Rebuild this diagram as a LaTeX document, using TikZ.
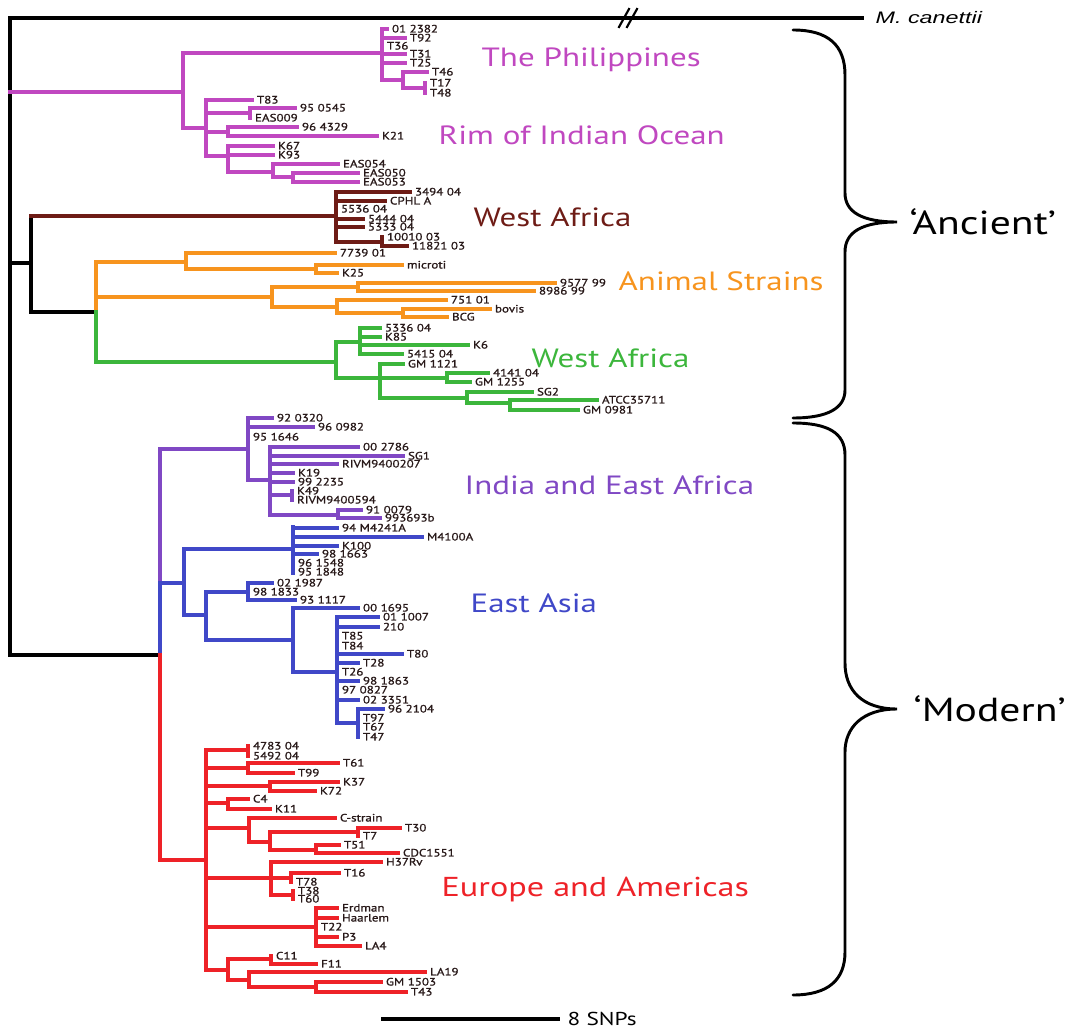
\documentclass[tikz,border=0pt]{standalone}
\usepackage{fontspec}
\setmainfont{PT Sans}[FakeStretch=1.25]
\newfontfamily\tipfamily{PT Sans}[FakeStretch=1.22,FakeBold=1.2]
\newfontfamily\canfont{Liberation Sans}[FakeStretch=1.4]
\definecolor{phil}{RGB}{192,72,192}
\definecolor{wafr}{RGB}{110,28,22}
\definecolor{animal}{RGB}{247,148,30}
\definecolor{wgreen}{RGB}{60,182,60}
\definecolor{india}{RGB}{128,72,196}
\definecolor{easia}{RGB}{64,72,200}
\definecolor{euro}{RGB}{238,34,40}
\definecolor{leafink}{RGB}{40,25,25}
\newcommand{\leaffont}{\tipfamily\fontsize{8}{8}\selectfont}
\newcommand{\grpfont}{\fontsize{19.8}{19.8}\selectfont}
\newcommand{\bigfont}{\fontsize{25}{25}\selectfont}
% branch with a tip label: x from, x to, y, label
\newcommand{\lf}[4]{\draw (#1,#3) -- (#2,#3) node[leaf]{#4};}
% tip sitting on a vertical: x, y, label
\newcommand{\zl}[3]{\node[leaf] at (#1,#2) {#3};}
% vertical bar of a clade: x, y top, y bottom
\newcommand{\vb}[3]{\draw (#1,#2) -- (#1,#3);}
\begin{document}
\begin{tikzpicture}[x=0.75pt,y=-0.75pt,line width=2.5pt,line cap=rect,
  leaf/.style={anchor=west,inner sep=0pt,xshift=2.5pt,font=\leaffont,text=leafink,text height=5.2pt,text depth=0pt},
  grp/.style={anchor=west,inner sep=0pt,font=\grpfont},
  brace/.style={line width=2.2pt,line cap=round}]
\useasboundingbox (0,0) rectangle (1067,1030);
% outgroup and root
\draw (10,18) -- (862,18) node[anchor=west,inner sep=0pt,xshift=9pt,font=\canfont\itshape\fontsize{12.5}{12.5}\selectfont] (can) {M. canettii};
\draw[line width=1.6pt] (619,27) -- (629,9) (627,27) -- (637,9);
\draw (10,18) -- (10,655);
\draw (10,263) -- (31,263);
\draw (31,216) -- (31,312);
\draw (31,312) -- (96,312);
\draw (10,655) -- (160,655);
% The Philippines / Rim of Indian Ocean
\begin{scope}[draw=phil]
\draw (10,92) -- (183,92);
\vb{183}{53}{128}
\draw (183,53) -- (382,53);
\vb{382}{29}{80}
\lf{382}{387}{29}{01 2382}
\lf{382}{405}{38}{T92}
\zl{382}{46}{T36}
\lf{382}{405}{54}{T31}
\lf{382}{405}{63}{T25}
\draw (382,80) -- (403,80);
\vb{403}{72}{88}
\lf{403}{427}{72}{T46}
\draw (403,88) -- (425,88);
\vb{425}{83}{93}
\zl{425}{83}{T17}
\zl{425}{93}{T48}
\draw (183,128) -- (206,128);
\vb{206}{100}{156}
\lf{206}{252}{100}{T83}
\draw (206,113) -- (250,113);
\vb{250}{108}{118}
\lf{250}{295}{108}{95 0545}
\zl{250}{118}{EAS009}
\draw (206,132) -- (228,132);
\vb{228}{127}{136}
\lf{228}{297}{127}{96 4329}
\lf{228}{377}{136}{K21}
\draw (206,156) -- (228,156);
\vb{228}{146}{172}
\lf{228}{273}{146}{K67}
\lf{228}{273}{155}{K93}
\draw (228,172) -- (273,172);
\vb{273}{164}{177}
\lf{273}{338}{164}{EAS054}
\draw (273,177) -- (293,177);
\vb{293}{173}{182}
\lf{293}{358}{173}{EAS050}
\lf{293}{358}{182}{EAS053}
\end{scope}
\node[grp,text=phil] (philip) at (480,60) {The Philippines};
\node[grp,text=phil] (rim) at (437,135) {Rim of Indian Ocean};
% West Africa (brown)
\begin{scope}[draw=wafr]
\draw (31,216) -- (336,216);
\vb{336}{192}{242}
\lf{336}{410}{192}{3494 04}
\lf{336}{385}{201}{CPHL A}
\zl{336}{209}{5536 04}
\lf{336}{363}{219}{5444 04}
\lf{336}{363}{227}{5333 04}
\draw (336,242) -- (382,242);
\vb{382}{237}{246}
\zl{382}{237}{10010 03}
\lf{382}{407}{246}{11821 03}
\end{scope}
\node[grp,text=wafr] (wafrlab) at (472,217) {West Africa};
% Animal strains
\begin{scope}[draw=animal]
\vb{96}{262}{312}
\draw (96,262) -- (186,262);
\vb{186}{253}{269}
\lf{186}{335}{253}{7739 01}
\draw (186,269) -- (316,269);
\vb{316}{265}{273}
\lf{316}{402}{265}{microti}
\lf{316}{337}{273}{K25}
\draw (96,297) -- (272,297);
\vb{272}{287}{307}
\draw (272,287) -- (358,287);
\vb{358}{283}{291}
\lf{358}{555}{283}{9577 99}
\lf{358}{534}{291}{8986 99}
\draw (272,307) -- (337,307);
\vb{337}{300}{313}
\lf{337}{446}{300}{751 01}
\draw (337,313) -- (403,313);
\vb{403}{309}{317}
\lf{403}{490}{309}{bovis}
\lf{403}{447}{317}{BCG}
\end{scope}
\node[grp,text=animal] (anim) at (617,281) {Animal Strains};
% West Africa (green)
\begin{scope}[draw=wgreen]
\vb{96}{312}{362}
\draw (96,362) -- (336,362);
\vb{336}{342}{378}
\draw (336,342) -- (360,342);
\vb{360}{328}{354}
\lf{360}{380}{328}{5336 04}
\lf{360}{380}{337}{K85}
\lf{360}{468}{345}{K6}
\lf{360}{402}{354}{5415 04}
\draw (336,378) -- (380,378);
\vb{380}{364}{398}
\lf{380}{403}{364}{GM 1121}
\draw (380,378) -- (447,378);
\vb{447}{373}{382}
\lf{447}{488}{373}{4141 04}
\lf{447}{470}{382}{GM 1255}
\draw (380,398) -- (467,398);
\vb{467}{392}{403}
\lf{467}{532}{392}{SG2}
\draw (467,403) -- (510,403);
\vb{510}{400}{410}
\lf{510}{597}{400}{ATCC35711}
\lf{510}{578}{410}{GM 0981}
\end{scope}
\node[grp,text=wgreen] (wgrlab) at (530,358) {West Africa};
% India and East Africa
\begin{scope}[draw=india]
\vb{160}{449}{583}
\draw (160,449) -- (248,449);
\vb{248}{418}{480}
\lf{248}{272}{418}{92 0320}
\lf{248}{313}{427}{96 0982}
\zl{248}{437}{95 1646}
\draw (248,480) -- (270,480);
\vb{270}{447}{515}
\lf{270}{358}{447}{00 2786}
\lf{270}{403}{456}{SG1}
\lf{270}{337}{464}{RIVM9400207}
\lf{270}{293}{473}{K19}
\lf{270}{293}{482}{99 2235}
\draw (270,495) -- (292,495);
\vb{292}{491}{500}
\zl{292}{491}{K49}
\zl{292}{500}{RIVM9400594}
\draw (270,515) -- (338,515);
\vb{338}{510}{518}
\lf{338}{361}{510}{91 0079}
\lf{338}{380}{518}{993693b}
\end{scope}
\node[grp,text=india] (indlab) at (463,485) {India and East Africa};
% East Asia
\begin{scope}[draw=easia]
\vb{160}{583}{655}
\draw (160,583) -- (184,583);
\vb{184}{549}{615}
\draw (184,549) -- (293,549);
\vb{293}{527}{573}
\lf{293}{337}{528}{94 M4241A}
\lf{293}{422}{537}{M4100A}
\lf{293}{337}{546}{K100}
\lf{293}{317}{554}{98 1663}
\zl{293}{563}{96 1548}
\zl{293}{572}{95 1848}
\draw (184,615) -- (206,615);
\vb{206}{592}{640}
\draw (206,592) -- (248,592);
\vb{248}{583}{600}
\lf{248}{272}{583}{02 1987}
\zl{248}{592}{98 1833}
\lf{248}{295}{600}{93 1117}
\draw (206,640) -- (293,640);
\vb{293}{608}{672}
\lf{293}{358}{608}{00 1695}
\draw (293,672) -- (337,672);
\vb{337}{617}{723}
\lf{337}{378}{617}{01 1007}
\lf{337}{378}{627}{210}
\zl{337}{636}{T85}
\zl{337}{646}{T84}
\lf{337}{402}{654}{T80}
\lf{337}{358}{663}{T28}
\zl{337}{672}{T26}
\lf{337}{358}{681}{98 1863}
\zl{337}{690}{97 0827}
\lf{337}{358}{700}{02 3351}
\draw (337,723) -- (358,723);
\vb{358}{709}{737}
\lf{358}{383}{709}{96 2104}
\zl{358}{718}{T97}
\zl{358}{727}{T67}
\zl{358}{737}{T47}
\end{scope}
\node[grp,text=easia] (ealab) at (469,603) {East Asia};
% Europe and Americas
\begin{scope}[draw=euro]
\vb{160}{655}{860}
\draw (160,860) -- (206,860);
\vb{206}{750}{970}
\draw (206,750) -- (248,750);
\vb{248}{746}{756}
\zl{248}{746}{4783 04}
\zl{248}{756}{5492 04}
\draw (206,768) -- (248,768);
\vb{248}{763}{773}
\lf{248}{338}{763}{T61}
\lf{248}{293}{773}{T99}
\draw (206,786) -- (270,786);
\vb{270}{782}{791}
\lf{270}{338}{782}{K37}
\lf{270}{315}{791}{K72}
\draw (206,803) -- (228,803);
\vb{228}{799}{809}
\lf{228}{248}{799}{C4}
\lf{228}{270}{809}{K11}
\draw (206,828) -- (249,828);
\vb{249}{818}{842}
\lf{249}{335}{818}{C-strain}
\draw (249,842) -- (270,842);
\vb{270}{832}{850}
\draw (270,832) -- (358,832);
\vb{358}{828}{836}
\lf{358}{400}{828}{T30}
\zl{358}{836}{T7}
\draw (270,850) -- (316,850);
\vb{316}{845}{853}
\lf{316}{339}{845}{T51}
\lf{316}{398}{853}{CDC1551}
\draw (206,878) -- (271,878);
\vb{271}{862}{895}
\lf{271}{381}{862}{H37Rv}
\draw (271,878) -- (291,878);
\vb{291}{873}{882}
\lf{291}{339}{873}{T16}
\zl{291}{882}{T78}
\draw (271,895) -- (293,895);
\vb{293}{891}{899}
\zl{293}{891}{T38}
\zl{293}{899}{T60}
\draw (206,927) -- (316,927);
\vb{316}{908}{946}
\lf{316}{337}{908}{Erdman}
\lf{316}{337}{918}{Haarlem}
\zl{316}{927}{T22}
\lf{316}{337}{937}{P3}
\lf{316}{360}{946}{LA4}
\draw (206,970) -- (228,970);
\vb{228}{959}{980}
\draw (228,959) -- (271,959);
\vb{271}{956}{964}
\zl{271}{956}{C11}
\lf{271}{316}{964}{F11}
\draw (228,980) -- (249,980);
\vb{249}{972}{987}
\lf{249}{425}{972}{LA19}
\draw (249,987) -- (316,987);
\vb{316}{982}{992}
\lf{316}{381}{982}{GM 1503}
\lf{316}{406}{992}{T43}
\end{scope}
\node[grp,text=euro,font=\fontsize{20.5}{20.5}\selectfont] (eulab) at (440,890) {Europe and Americas};
% braces
\draw[brace] (793,30) .. controls (828,30) and (845,45) .. (845,75) -- (845,193)
  .. controls (845,212) and (862,222) .. (897,222)
  .. controls (862,222) and (845,232) .. (845,252) -- (845,390)
  .. controls (845,408) and (828,418) .. (793,418);
\draw[brace] (793,423) .. controls (828,423) and (845,433) .. (845,455) -- (845,663)
  .. controls (845,690) and (862,709) .. (897,709)
  .. controls (862,709) and (845,728) .. (845,752) -- (845,952)
  .. controls (845,980) and (828,995) .. (793,995);
\node[anchor=west,inner sep=0pt,font=\bigfont] (anc) at (908,222) {‘Ancient’};
\node[anchor=west,inner sep=0pt,font=\bigfont] (mod) at (912,709) {‘Modern’};
% scale bar
\draw[line width=2.4pt] (383,1019) -- (558,1019) node[anchor=west,inner sep=0pt,xshift=6pt,font=\fontsize{14}{14}\selectfont] (snp) {8 SNPs};
\end{tikzpicture}
\end{document}
